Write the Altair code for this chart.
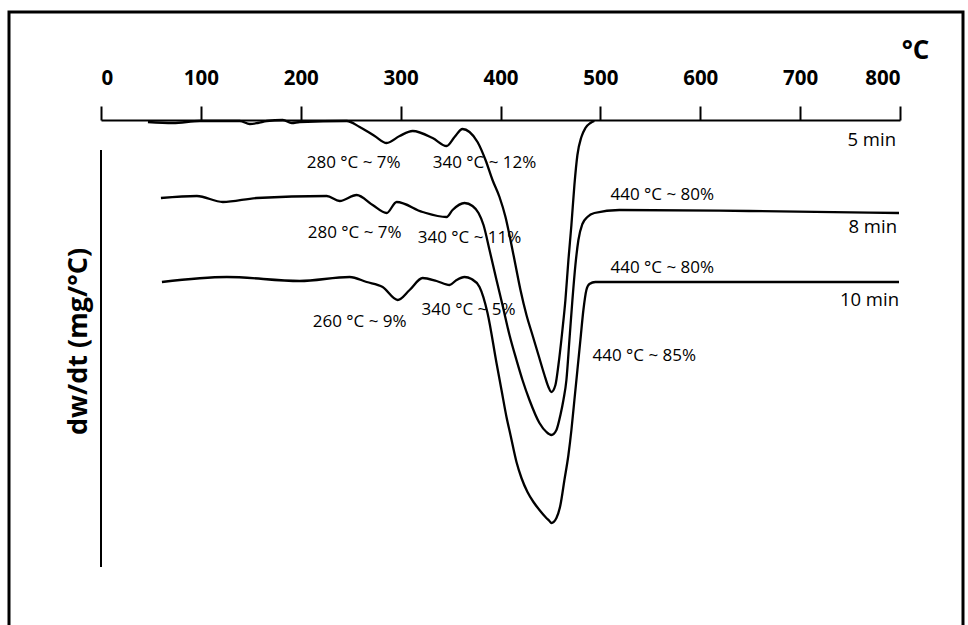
import altair as alt
import pandas as pd

# ---- data (temperature in °C, dw/dt in arbitrary offset units) ----
t_5 = [47, 72, 99, 139, 149, 157, 166, 182, 191, 199, 246, 259, 274, 286, 299, 312, 332, 346, 354, 362,
       369, 377, 385, 392, 399, 405, 410, 415, 420, 426, 432, 438, 444, 448, 451, 455, 458, 462, 465, 468,
       471, 474, 477, 481, 485, 490, 494]
y_5 = [-2, -3, -1, -1, -4, -3, -1, 0, -3, -2, -1, -7, -16, -23, -16, -11, -18, -26, -17, -9,
       -12, -22, -40, -60, -77, -97, -120, -145, -170, -195, -215, -235, -255, -267, -272, -265, -245, -210, -180, -140,
       -105, -65, -35, -17, -8, -3, -1]

t_8 = [60, 96, 122, 156, 226, 239, 256, 272, 286, 296, 322, 346, 352, 364, 372, 378, 383, 389, 396, 402,
       409, 416, 422, 429, 439, 446, 451, 456, 460, 463, 466, 469, 472, 475, 478, 482, 487, 494, 519, 649, 799]
y_8 = [-78, -76, -82, -78, -76, -81, -75, -85, -93, -82, -92, -97, -90, -83, -86, -93, -105, -130, -160, -185,
       -215, -240, -260, -280, -303, -312, -315, -310, -295, -280, -260, -220, -180, -145, -120, -104, -97, -93, -90, -91, -93]

t_10 = [61, 126, 199, 249, 266, 282, 297, 309, 322, 336, 349, 356, 364, 371, 379, 387, 396, 401, 406, 410,
        416, 421, 427, 433, 439, 445, 449, 451, 456, 460, 464, 468, 471, 474, 477, 480, 483, 486, 489, 495, 519, 799]
y_10 = [-162, -157, -161, -157, -162, -167, -180, -170, -158, -161, -165, -160, -157, -159, -167, -193, -243, -270, -297, -315,
        -342, -358, -372, -382, -390, -397, -401, -403, -398, -385, -360, -335, -310, -280, -250, -220, -190, -170, -164, -162, -162, -162]

ann_text = ["280 °C ~ 7%", "340 °C ~ 12%", "280 °C ~ 7%", "340 °C ~ 11%", "260 °C ~ 9%",
            "340 °C ~ 5%", "440 °C ~ 80%", "440 °C ~ 80%", "440 °C ~ 85%"]
ann_t = [253, 384, 254, 369, 259, 368, 562, 562, 544]
ann_y = [-43, -43, -113, -118, -202, -190, -75, -148, -236]

series_names = ["5 min", "8 min", "10 min"]
series_t = [796, 797, 799]
series_y = [-20, -107, -180]

x_ticks = [0, 100, 200, 300, 400, 500, 600, 700, 800]
yaxis_span = [-30, -447]

# ---- tables ----
curves = pd.concat([
    pd.DataFrame({"T": t_5, "v": y_5, "s": "5 min"}),
    pd.DataFrame({"T": t_8, "v": y_8, "s": "8 min"}),
    pd.DataFrame({"T": t_10, "v": y_10, "s": "10 min"}),
])
ann = pd.DataFrame({"T": ann_t, "v": ann_y, "label": ann_text})
names = pd.DataFrame({"T": series_t, "v": series_y, "label": series_names})
yrule = pd.DataFrame({"T": [0], "v": [yaxis_span[0]], "v2": [yaxis_span[1]]})

FONT = "Open Sans"

x_scale = alt.Scale(domain=[0, 800], nice=False, zero=False)
y_scale = alt.Scale(domain=[-500, 0], nice=False, zero=False)

x_enc = alt.X("T:Q", scale=x_scale, axis=alt.Axis(
    orient="top", values=x_ticks, format="d", grid=False,
    domainColor="black", domainWidth=2, tickColor="black", tickWidth=2, tickSize=14,
    labelFont=FONT, labelFontSize=20.5, labelFontWeight="bold", labelColor="black",
    labelPadding=22, labelBaseline="alphabetic",
    title="°C", titleFont=FONT, titleFontSize=26, titleFontWeight="bold", titleColor="black",
    titleX=814, titleY=-70, titleAlign="center", titleBaseline="middle", titleAngle=0,
))
y_enc = alt.Y("v:Q", scale=y_scale, axis=alt.Axis(
    orient="left", domain=False, ticks=False, labels=False, grid=False,
    title="dw/dt (mg/°C)", titleFont=FONT, titleFontSize=27, titleFontWeight="bold", titleColor="black",
    titleX=-23, titleY=221, titleAngle=270, titleAlign="center", titleBaseline="middle",
))

lines = alt.Chart(curves).mark_line(color="black", strokeWidth=2.3, interpolate="monotone").encode(
    x=x_enc, y=y_enc, detail="s:N"
)

yline = alt.Chart(yrule).mark_rule(color="black", strokeWidth=2).encode(
    x=alt.X("T:Q", scale=x_scale), y=alt.Y("v:Q", scale=y_scale), y2="v2:Q"
)

ann_layer = alt.Chart(ann).mark_text(font=FONT, fontSize=17, color="black", align="center", baseline="middle").encode(
    x=alt.X("T:Q", scale=x_scale), y=alt.Y("v:Q", scale=y_scale), text="label:N"
)

name_layer = alt.Chart(names).mark_text(font=FONT, fontSize=18.5, color="black", align="right", baseline="middle").encode(
    x=alt.X("T:Q", scale=x_scale), y=alt.Y("v:Q", scale=y_scale), text="label:N"
)

frame = alt.Chart(pd.DataFrame({"k": [0]})).mark_rect(fill=None, stroke="black", strokeWidth=3).encode(
    x=alt.value(-92), x2=alt.value(862), y=alt.value(-108), y2=alt.value(530)
)

chart = alt.layer(frame, lines, yline, ann_layer, name_layer).properties(
    width=799, height=500,
    padding={"left": 101, "top": 120, "right": 68, "bottom": 5},
    autosize="none",
    background="white",
).configure_view(stroke=None)

chart.save("out.html", embed_options={"renderer": "svg", "actions": False})
